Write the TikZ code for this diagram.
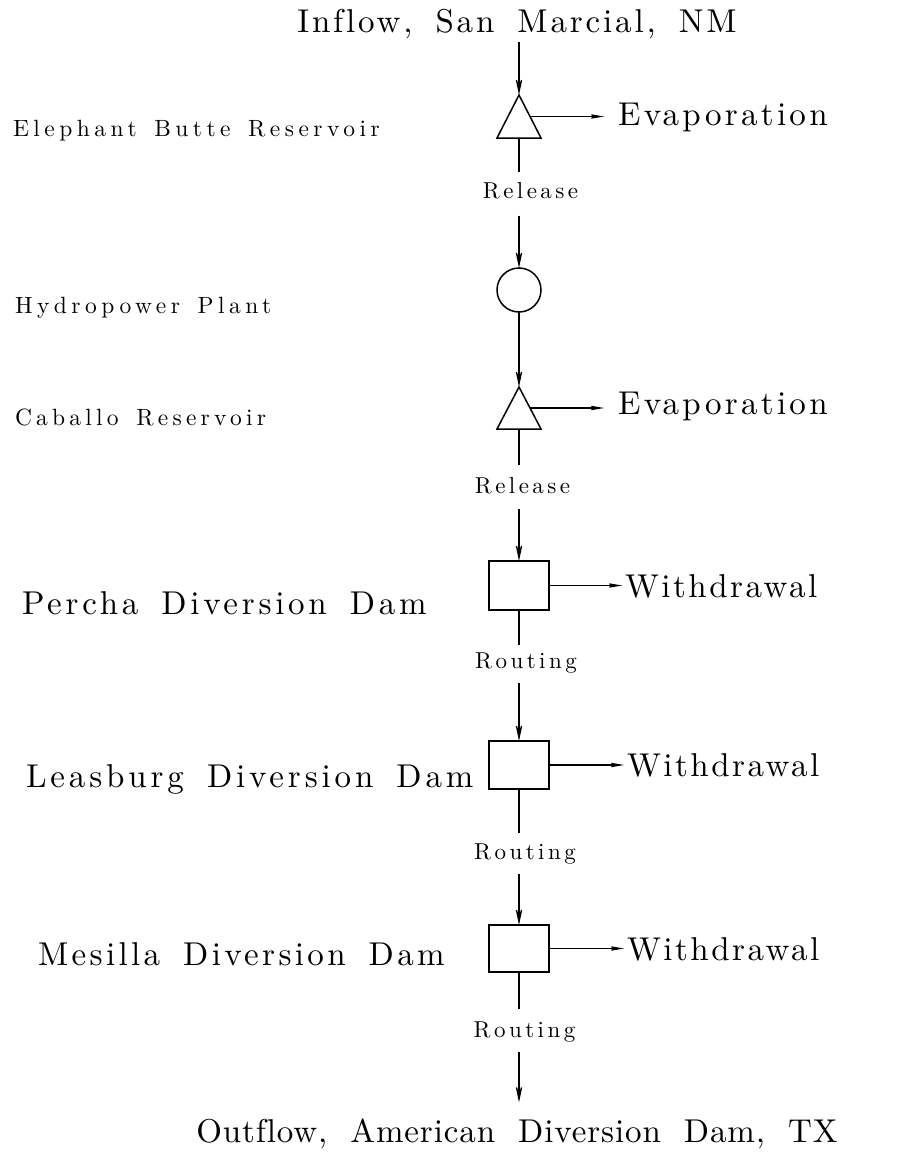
\documentclass[tikz,border=0pt]{standalone}
\usepackage{fontspec}
\setmainfont{lmroman10-regular.otf}
\usetikzlibrary{arrows.meta,calc}

\tikzset{
  every node/.style={inner sep=0pt, outer sep=0pt},
  shapeline/.style={draw, line width=1.5pt, line join=miter},
  flow/.style={line width=1.2pt},
  arr/.style={flow, -{Stealth[length=26pt,width=11pt,inset=17pt]}},
  sidearr/.style={flow, -{Stealth[length=26pt,width=9pt,inset=17pt]}},
  bigtxt/.style={font={\fontsize{33}{36}\selectfont\addfontfeatures{LetterSpace=#1,Ligatures=CommonOff}\spaceskip=0.7em\relax}},
  bigtxt/.default=10,
  smalltxt/.style={font={\fontsize{23.5}{26}\selectfont\addfontfeatures{LetterSpace=#1}\spaceskip=0.75em\relax}},
  smalltxt/.default=19,
  lbltxt/.style={font={\fontsize{23}{26}\selectfont\addfontfeatures{LetterSpace=15}}},
  reach/.style={shapeline, minimum width=60pt, minimum height=48pt},
}

\begin{document}
\begin{tikzpicture}[x=1pt,y=-1pt]
\useasboundingbox (0,0) rectangle (907,1153);

% ---- titles at both ends of the river
\node[bigtxt=8.6, anchor=base] (inflow) at (517,33) {Inflow, San Marcial, NM};
\node[bigtxt=2.7, anchor=base] (outflow) at (517,1142) {Outflow, American Diversion Dam, TX};

% ---- Elephant Butte Reservoir
\coordinate (eb-top) at (519,95);
\coordinate (eb-l) at (497,138);
\coordinate (eb-r) at (541,138);
\coordinate (eb-bot) at (519,138);
\coordinate (eb-side) at ($(eb-top)!0.5!(eb-r)$);
\draw[shapeline] (eb-top) -- (eb-r) -- (eb-l) -- cycle;
\node[smalltxt, anchor=base west] (eb-name) at (13,136) {Elephant Butte Reservoir};
\node[bigtxt, anchor=base west] (evap1) at (618,125) {Evaporation};
\node[lbltxt, anchor=base] (rel1) at (530.5,198) {Release};

% ---- Hydropower plant
\node[circle, shapeline, minimum size=44pt] (hp) at (519,290) {};
\node[smalltxt, anchor=base west] (hp-name) at (15,313) {Hydropower Plant};

% ---- Caballo Reservoir
\coordinate (cb-top) at (519,387);
\coordinate (cb-l) at (497,429);
\coordinate (cb-r) at (541,429);
\coordinate (cb-bot) at (519,429);
\coordinate (cb-side) at ($(cb-top)!0.5!(cb-r)$);
\draw[shapeline] (cb-top) -- (cb-r) -- (cb-l) -- cycle;
\node[smalltxt=18, anchor=base west] (cb-name) at (15,425) {Caballo Reservoir};
\node[bigtxt, anchor=base west] (evap2) at (618,414) {Evaporation};
\node[lbltxt, anchor=base] (rel2) at (522.5,493) {Release};

% ---- diversion dams
\node[reach, minimum height=49pt] (percha) at (519,585.5) {};
\node[bigtxt=11.3, anchor=base west] (percha-name) at (22,614) {Percha Diversion Dam};
\node[bigtxt=7.6, anchor=base west] (wd1) at (625,597.5) {Withdrawal};
\node[lbltxt, anchor=base] (rt1) at (526,668) {Routing};

\node[reach] (leasburg) at (519,765) {};
\node[bigtxt=11.7, anchor=base west] (leasburg-name) at (26,787) {Leasburg Diversion Dam};
\node[bigtxt=7.6, anchor=base west] (wd2) at (627,776.5) {Withdrawal};
\node[lbltxt, anchor=base] (rt2) at (525,859) {Routing};

\node[reach, minimum height=47pt] (mesilla) at (519,948.5) {};
\node[bigtxt=10.2, anchor=base west] (mesilla-name) at (38,965) {Mesilla Diversion Dam};
\node[bigtxt=7.6, anchor=base west] (wd3) at (627,960) {Withdrawal};
\node[lbltxt, anchor=base] (rt3) at (524.5,1037) {Routing};

% ---- main stem
\draw[arr, shorten <=3pt] (inflow.south -| eb-top) -- (eb-top);
\draw[flow, shorten >=10pt] (eb-bot) -- (eb-bot |- rel1.north);
\draw[arr, shorten <=17pt] (hp.north |- rel1.south) -- (hp.north);
\draw[arr] (hp.south) -- (cb-top);
\draw[flow, shorten >=12pt] (cb-bot) -- (cb-bot |- rel2.north);
\draw[arr, shorten <=15pt] (percha.north |- rel2.south) -- (percha.north);
\draw[flow, shorten >=7pt] (percha.south) -- (percha.south |- rt1.north);
\draw[arr, shorten <=10pt] (leasburg.north |- rt1.south) -- (leasburg.north);
\draw[flow, shorten >=10pt] (leasburg.south) -- (leasburg.south |- rt2.north);
\draw[arr, shorten <=10pt] (mesilla.north |- rt2.south) -- (mesilla.north);
\draw[flow, shorten >=12pt] (mesilla.south) -- (mesilla.south |- rt3.north);
\draw[arr, shorten <=10pt, shorten >=16pt] (mesilla.south |- rt3.south) -- (mesilla.south |- outflow.north);

% ---- losses
\draw[sidearr, shorten >=14pt] (eb-side) -- (eb-side -| evap1.west);
\draw[sidearr, shorten >=14pt] (cb-side) -- (cb-side -| evap2.west);
\draw[sidearr, shorten >=3pt] (percha.east) -- (percha.east -| wd1.west);
\draw[sidearr, shorten >=3pt] (leasburg.east) -- (leasburg.east -| wd2.west);
\draw[sidearr, shorten >=3pt] (mesilla.east) -- (mesilla.east -| wd3.west);
\end{tikzpicture}
\end{document}
